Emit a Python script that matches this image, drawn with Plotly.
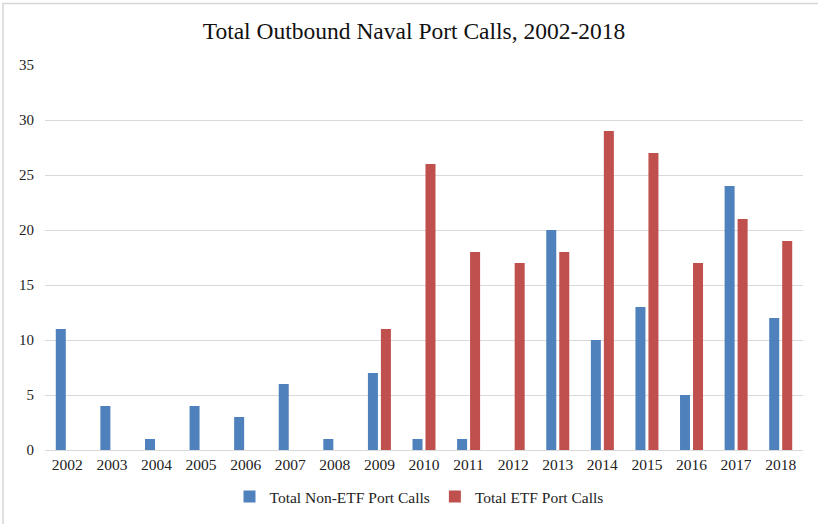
import plotly.graph_objects as go

years = [str(y) for y in range(2002, 2019)]
non_etf = [11, 4, 1, 4, 3, 6, 1, 7, 1, 1, 0, 20, 10, 13, 5, 24, 12]
etf = [0, 0, 0, 0, 0, 0, 0, 11, 26, 18, 17, 18, 29, 27, 17, 21, 19]

FONT = "Liberation Serif"

fig = go.Figure()
fig.add_trace(go.Bar(x=years, y=non_etf, name="Total Non-ETF Port Calls",
                     marker=dict(color="#4F81BD", line=dict(width=0))))
fig.add_trace(go.Bar(x=years, y=etf, name="Total ETF Port Calls",
                     marker=dict(color="#C0504D", line=dict(width=0))))

L, R, T, B = 45, 15, 65, 74
W, H = 818, 524
pw = W - L - R
ph = H - T - B

fig.update_layout(
    width=W, height=H,
    margin=dict(l=L, r=R, t=T, b=B, autoexpand=False),
    paper_bgcolor="white", plot_bgcolor="white",
    barmode="group", bargap=0.417, bargroupgap=0.23,
    font=dict(family=FONT, color="#222222", size=14),
    title=dict(text="Total Outbound Naval Port Calls, 2002-2018",
               x=414 / W, xref="container", xanchor="center", y=1 - 31 / H, yanchor="middle",
               font=dict(family=FONT, size=23.5, color="#111111")),
    showlegend=True,
    legend=dict(orientation="h", x=0.5 - 5 / pw, xanchor="center", y=-(497 - (H - B)) / ph,
                yanchor="middle", font=dict(family=FONT, size=15.5, color="#222222"),
                itemwidth=30, traceorder="normal"),
    xaxis=dict(type="category", showgrid=False, showline=True, linecolor="#d9d9d9",
               linewidth=1, ticks="", automargin=False,
               tickfont=dict(family=FONT, size=15.5)),
    yaxis=dict(range=[0, 35], dtick=5, showgrid=True, gridcolor="#d9d9d9",
               gridwidth=1, zeroline=False, showline=False, ticks="", automargin=False,
               tickfont=dict(family=FONT, size=15), ticklabelstandoff=10),
    shapes=[dict(type="rect", xref="paper", yref="paper",
                 x0=(3 - L) / pw, x1=(830 - L) / pw,
                 y0=-(540 - (H - B)) / ph, y1=((H - B) - 3.5) / ph,
                 line=dict(color="#d6d6d6", width=1.5), fillcolor="rgba(0,0,0,0)",
                 layer="below")],
)

fig.write_html("out.html", config={"displayModeBar": False},
               post_script="document.body.style.margin='0';")
